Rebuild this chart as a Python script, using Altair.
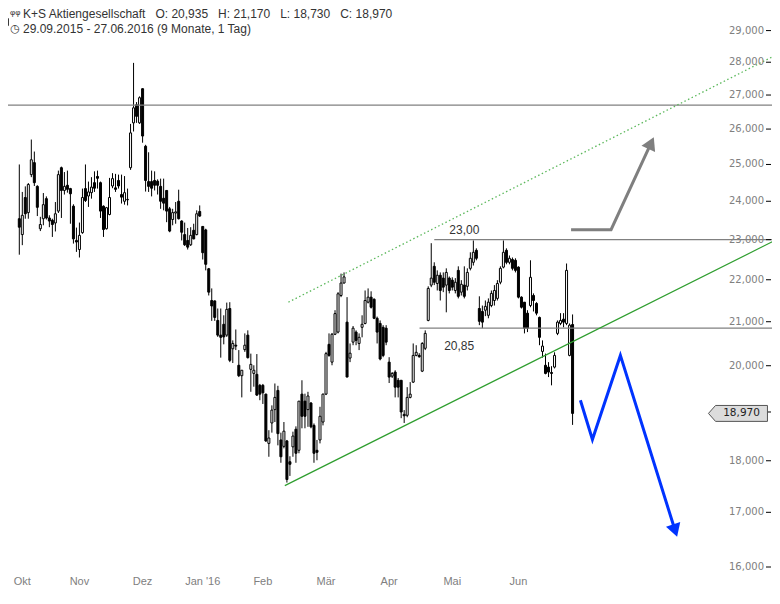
import numpy as np
import pandas as pd
import altair as alt

# ---------------- trading calendar (Xetra) ----------------
holidays = ["2015-12-24", "2015-12-25", "2015-12-31", "2016-01-01", "2016-03-25", "2016-03-28"]
cal = pd.bdate_range("2015-09-29", "2016-06-27")
cal = cal[~cal.isin(pd.to_datetime(holidays))]

# ---------------- candle data (EUR) ----------------
candle_day = [0] + list(range(4, 189))

opens = [29.16,
 23.54, 23.13, 24.10, 23.70, 24.72, 25.05, 24.40, 23.28, 23.54, 24.07, 23.56, 23.50, 23.43, 23.74, 24.91, 24.29,
 24.43, 24.34, 23.87, 22.98, 22.75, 23.18, 24.34, 24.14, 24.23, 24.50, 24.67, 24.50, 23.87, 23.28, 23.65, 24.41,
 24.36, 24.56, 24.18, 24.00, 24.04, 24.91, 26.18, 26.71, 26.18, 27.19, 25.51, 24.53, 24.53, 24.56, 24.54, 24.40,
 24.08, 24.29, 23.80, 23.52, 23.69, 24.00, 23.48, 23.13, 22.98, 22.87, 23.24, 23.13, 23.73, 23.34, 23.25, 22.27,
 21.50, 21.49, 21.03, 20.69, 20.94, 20.69, 21.31, 20.38, 20.46, 20.01, 19.78, 20.36, 20.69, 19.92, 19.83, 19.81,
 19.57, 19.57, 19.38, 18.35, 18.77, 19.05, 19.46, 18.42, 18.29, 18.40, 17.98, 18.28, 18.64, 18.21, 19.38, 19.23,
 19.05, 19.19, 18.72, 18.21, 18.42, 18.79, 19.38, 20.48, 20.08, 20.71, 20.76, 21.62, 21.92, 20.99, 20.17, 20.53,
 20.76, 20.50, 20.87, 20.96, 21.46, 21.58, 21.53, 21.08, 20.96, 20.87, 20.85, 20.08, 19.77, 19.86, 19.68, 19.68,
 18.95, 18.93, 19.31, 19.64, 20.23, 20.23, 19.88, 20.39, 21.03, 21.87, 22.33, 21.91, 22.11, 22.04, 21.87, 22.04,
 21.99, 21.74, 22.23, 21.70, 21.87, 21.84, 22.28, 22.43, 22.73, 21.31, 21.24, 21.27, 21.15, 21.38, 21.50, 21.55,
 21.94, 22.31, 22.73, 22.43, 22.50, 22.48, 22.31, 21.58, 21.46, 21.20, 21.38, 21.62, 21.43, 21.10, 20.32, 20.01,
 19.97, 19.85, 19.97, 20.73, 20.96, 21.06, 20.96, 20.23, 20.935]

highs = [30.10,
 25.00, 24.25, 24.40, 24.49, 25.70, 25.36, 24.43, 23.59, 24.22, 24.13, 23.63, 23.54, 23.98, 24.83, 24.94, 24.79,
 24.83, 24.36, 23.92, 23.31, 23.44, 24.34, 25.00, 24.53, 24.65, 24.81, 24.83, 24.53, 23.89, 23.85, 24.63, 24.76,
 24.74, 24.72, 24.72, 24.68, 24.34, 26.15, 27.98, 26.79, 26.96, 27.20, 25.55, 25.34, 24.83, 24.81, 24.59, 24.61,
 24.61, 24.29, 23.85, 23.80, 23.98, 24.31, 23.50, 23.44, 23.30, 23.32, 23.41, 23.76, 23.89, 23.34, 23.28, 22.29,
 21.79, 21.50, 21.31, 21.31, 21.15, 21.45, 21.46, 20.57, 20.82, 20.35, 19.90, 20.73, 20.80, 20.27, 20.01, 20.26,
 19.60, 19.60, 19.39, 18.62, 19.14, 19.61, 19.56, 18.57, 18.79, 18.42, 18.09, 18.59, 18.70, 19.23, 19.68, 19.39,
 19.43, 19.21, 18.76, 18.42, 19.11, 19.39, 20.31, 20.73, 20.74, 21.27, 21.70, 22.15, 22.18, 21.58, 20.50, 20.90,
 20.80, 20.73, 21.15, 21.74, 21.79, 21.72, 21.55, 21.12, 21.03, 20.92, 20.92, 20.19, 19.86, 19.90, 19.73, 19.68,
 19.04, 19.53, 19.64, 20.50, 20.46, 20.28, 20.53, 20.80, 21.84, 22.91, 22.43, 22.23, 22.18, 22.18, 22.28, 22.08,
 22.06, 22.04, 22.33, 21.99, 22.33, 22.28, 22.68, 22.98, 22.78, 21.60, 21.38, 21.50, 21.55, 21.74, 21.87, 21.99,
 22.33, 22.98, 22.78, 22.60, 22.55, 22.53, 22.33, 21.60, 21.46, 21.27, 22.48, 21.67, 21.46, 21.12, 20.57, 20.27,
 20.08, 19.99, 20.30, 21.03, 21.20, 21.20, 22.40, 20.96, 21.17]

lows = [29.06,
 22.62, 22.86, 23.54, 23.54, 24.65, 24.41, 23.61, 23.22, 23.37, 23.52, 23.32, 23.07, 23.21, 23.69, 23.56, 24.18,
 24.23, 23.41, 22.90, 22.69, 22.55, 23.15, 23.98, 23.85, 24.07, 24.25, 24.34, 23.56, 23.07, 23.26, 23.63, 24.35,
 24.25, 24.34, 23.94, 23.91, 23.89, 24.85, 25.93, 26.18, 26.15, 25.61, 24.26, 24.25, 24.13, 24.29, 24.18, 23.80,
 23.76, 23.45, 23.19, 23.37, 23.41, 23.52, 22.98, 22.84, 22.75, 22.84, 23.01, 23.11, 23.59, 22.50, 22.23, 21.62,
 21.02, 21.02, 20.65, 20.18, 20.48, 20.65, 20.08, 20.06, 20.35, 19.75, 19.31, 20.31, 20.16, 19.43, 19.54, 19.34,
 19.25, 19.17, 18.38, 18.08, 18.57, 18.79, 18.31, 17.96, 18.25, 17.57, 17.70, 18.08, 17.96, 18.15, 18.66, 18.66,
 18.69, 18.66, 17.96, 18.01, 18.35, 18.72, 19.36, 20.20, 20.01, 20.69, 20.73, 21.58, 21.91, 19.75, 20.08, 20.46,
 20.46, 20.35, 20.64, 20.94, 21.43, 21.31, 21.06, 20.50, 20.12, 20.19, 20.46, 19.62, 19.73, 19.31, 19.31, 18.87,
 18.77, 18.89, 19.29, 19.62, 20.21, 20.18, 19.86, 20.35, 21.01, 21.82, 21.87, 21.74, 21.50, 21.70, 21.22, 21.67,
 21.74, 21.67, 21.55, 21.62, 21.55, 21.74, 22.23, 22.35, 22.48, 20.92, 20.85, 21.13, 21.08, 21.34, 21.38, 21.50,
 21.89, 22.28, 22.38, 22.38, 22.23, 22.18, 21.55, 21.31, 20.73, 20.76, 21.34, 21.24, 21.15, 20.46, 20.18, 19.81,
 19.75, 19.57, 19.94, 20.69, 20.92, 20.87, 20.92, 20.21, 18.73]

closes = [29.39,
 23.32, 23.63, 23.67, 24.45, 25.13, 24.50, 23.84, 23.39, 23.91, 23.56, 23.48, 23.39, 23.67, 24.72, 24.29, 24.40,
 24.32, 24.20, 23.02, 22.94, 23.11, 24.10, 24.02, 24.25, 24.38, 24.35, 24.62, 23.74, 23.26, 23.83, 24.10, 24.61,
 24.32, 24.41, 24.11, 24.23, 24.05, 25.89, 26.62, 26.37, 26.92, 25.80, 24.56, 24.40, 24.35, 24.43, 24.43, 24.00,
 23.95, 23.74, 23.22, 23.70, 23.72, 23.54, 23.19, 22.87, 22.81, 23.11, 23.02, 23.67, 23.61, 22.67, 22.38, 21.70,
 21.37, 21.10, 20.69, 20.64, 20.65, 21.29, 20.12, 20.50, 20.44, 19.78, 19.90, 20.46, 20.18, 20.03, 19.90, 19.36,
 19.38, 19.41, 18.40, 18.46, 19.04, 19.31, 18.55, 18.08, 18.60, 17.63, 17.93, 18.50, 18.15, 19.23, 18.91, 18.91,
 19.34, 18.69, 18.15, 18.17, 18.91, 19.38, 20.27, 20.23, 20.71, 21.19, 21.66, 21.92, 22.07, 19.75, 20.28, 20.85,
 20.57, 20.64, 20.94, 21.50, 21.58, 21.34, 21.08, 20.76, 20.15, 20.23, 20.53, 19.75, 19.83, 19.53, 19.53, 19.00,
 18.92, 19.31, 19.38, 20.23, 20.30, 20.20, 20.50, 20.73, 21.79, 22.04, 21.94, 22.11, 21.74, 21.82, 22.18, 21.74,
 21.82, 21.94, 21.60, 21.89, 21.60, 22.18, 22.53, 22.68, 22.53, 21.01, 20.99, 21.36, 21.46, 21.67, 21.74, 21.91,
 22.28, 22.68, 22.43, 22.53, 22.28, 22.23, 21.58, 21.34, 20.85, 20.85, 22.06, 21.50, 21.20, 20.64, 20.44, 19.83,
 19.86, 19.83, 20.23, 20.99, 21.03, 20.99, 22.23, 20.92, 18.97]

candles = pd.DataFrame({
    "day": candle_day,
    "date": cal[candle_day].strftime("%d.%m.%Y"),
    "open": opens, "high": highs, "low": lows, "close": closes,
})

# ---------------- axis ticks ----------------
month_keys = [(2015, 10), (2015, 11), (2015, 12), (2016, 1), (2016, 2),
              (2016, 3), (2016, 4), (2016, 5), (2016, 6)]
month_labels = ["Okt", "Nov", "Dez", "Jan '16", "Feb", "Mär", "Apr", "Mai", "Jun"]
month_ticks = [int(np.flatnonzero((cal.year == y) & (cal.month == m))[0]) for y, m in month_keys]
price_ticks = list(range(16, 30))                       # 30,000 sits on the top edge
price_labels = ["%d,000" % p for p in price_ticks]
label_ticks = [p for p in price_ticks if p != 19]       # 19,000 is hidden under the price tag
label_texts = ["%d,000" % p for p in label_ticks]

# ---------------- annotations (day index, price) ----------------
trend_days, trend_prices = [92.3, 255.32], [17.51, 22.98]
channel_days, channel_prices = [93.5, 255.32], [21.46, 28.21]
level_start = [-0.755, 142.0, 137.1]
level_end = [255.32, 255.32, 255.32]
level_prices = [26.70, 23.00, 20.85]
gray_days, gray_prices = [187.5, 200.8, 214.1], [23.255, 23.255, 25.60]
blue_days, blue_prices = [190.6, 194.6, 203.9, 222.1], [19.25, 18.43, 20.23, 16.66]
last_close = 18.97

header1 = ("K+S Aktiengesellschaft\u00a0\u00a0 O: 20,935\u00a0\u00a0 H: 21,170"
           "\u00a0\u00a0 L: 18,730\u00a0\u00a0 C: 18,970")
header2 = "29.09.2015 - 27.06.2016 (9 Monate, 1 Tag)"

# ---------------- scales ----------------
xs = alt.Scale(domain=[-0.755, 255.32], nice=False, zero=False)
ys = alt.Scale(type="log", domain=[15.357, 30.0], nice=False)


def X(field):
    return alt.X(field, scale=xs, axis=None)


def Y(field):
    return alt.Y(field, scale=ys, axis=None)


# ---------------- candles ----------------
wicks = alt.Chart(candles).mark_rule(color="black", strokeWidth=1).encode(
    x=X("day:Q"), y=Y("low:Q"), y2="high:Q")
bodies = alt.Chart(candles).mark_bar(size=2, stroke="black", strokeWidth=1).encode(
    x=X("day:Q"), y=Y("open:Q"), y2="close:Q",
    fill=alt.condition("datum.close < datum.open", alt.value("black"), alt.value("white")))

# ---------------- price axis (right side, inside the plot) ----------------
ytick_df = pd.DataFrame({"price": price_ticks, "label": price_labels})
ylabel_df = pd.DataFrame({"price": label_ticks, "label": label_texts})
ytick_marks = alt.Chart(ytick_df).mark_rule(color="black", strokeWidth=1).encode(
    y=Y("price:Q"), x=alt.value(766), x2=alt.value(771))
ytick_text = alt.Chart(ylabel_df).mark_text(
    align="right", baseline="middle", font="DejaVu Sans", fontSize=10, color="#808080").encode(
    y=Y("price:Q"), x=alt.value(764), text="label:N")

# ---------------- time axis ----------------
xtick_df = pd.DataFrame({"day": month_ticks, "label": month_labels})
xtick_first = alt.Chart(xtick_df.head(1)).mark_text(
    align="left", baseline="middle", dx=0.5, font="Liberation Sans", fontSize=11, color="#808080").encode(
    x=X("day:Q"), y=alt.value(582), text="label:N")
xtick_text = alt.Chart(xtick_df.iloc[1:]).mark_text(
    align="center", baseline="middle", font="Liberation Sans", fontSize=11, color="#808080").encode(
    x=X("day:Q"), y=alt.value(582), text="label:N")

# ---------------- annotations ----------------
levels_df = pd.DataFrame({"start": level_start, "end": level_end, "price": level_prices})
levels = alt.Chart(levels_df).mark_rule(color="#808080", strokeWidth=1.2).encode(
    x=X("start:Q"), x2="end:Q", y=Y("price:Q"))

trend = alt.Chart(pd.DataFrame({"day": trend_days, "price": trend_prices})).mark_line(
    color="#2f9e2f", strokeWidth=1.2).encode(x=X("day:Q"), y=Y("price:Q"))
channel = alt.Chart(pd.DataFrame({"day": channel_days, "price": channel_prices})).mark_line(
    color="#5cb85c", strokeWidth=1.3, strokeDash=[1.5, 2.5]).encode(x=X("day:Q"), y=Y("price:Q"))

lbl23 = alt.Chart(pd.DataFrame({"day": [147.0], "price": [23.0], "t": ["23,00"]})).mark_text(
    align="left", baseline="middle", dy=-10, font="Liberation Sans", fontSize=12, color="#333333").encode(
    x=X("day:Q"), y=Y("price:Q"), text="t:N")
lbl2085 = alt.Chart(pd.DataFrame({"day": [145.3], "price": [20.85], "t": ["20,85"]})).mark_text(
    align="left", baseline="middle", dy=18, font="Liberation Sans", fontSize=12, color="#333333").encode(
    x=X("day:Q"), y=Y("price:Q"), text="t:N")

gray_df = pd.DataFrame({"o": list(range(len(gray_days))), "day": gray_days, "price": gray_prices})
gray_line = alt.Chart(gray_df).mark_line(color="#7f7f7f", strokeWidth=3, strokeJoin="miter").encode(
    x=X("day:Q"), y=Y("price:Q"), order="o:Q")
gray_head = alt.Chart(gray_df.tail(1)).mark_point(
    shape="triangle-up", filled=True, size=225, angle=25, color="#7f7f7f", opacity=1).encode(
    x=X("day:Q"), y=Y("price:Q"))

blue_df = pd.DataFrame({"o": list(range(len(blue_days))), "day": blue_days, "price": blue_prices})
blue_line = alt.Chart(blue_df).mark_line(color="#0033ff", strokeWidth=3, strokeJoin="miter").encode(
    x=X("day:Q"), y=Y("price:Q"), order="o:Q")
blue_head = alt.Chart(blue_df.tail(1)).mark_point(
    shape="triangle-down", filled=True, size=225, angle=342, color="#0033ff", opacity=1).encode(
    x=X("day:Q"), y=Y("price:Q"))

tag_shape = "M -1 0 L -0.76 -0.27 L 1 -0.27 L 1 0.27 L -0.76 0.27 Z"
tag = alt.Chart(pd.DataFrame({"day": [243.0], "price": [last_close]})).mark_point(
    shape=tag_shape, filled=True, size=3481, fill="#dcdcdc", stroke="#555555",
    strokeWidth=1, opacity=1).encode(x=X("day:Q"), y=Y("price:Q"))
tag_text = alt.Chart(pd.DataFrame({"day": [244.2], "price": [last_close], "t": ["18,970"]})).mark_text(
    align="center", baseline="middle", font="DejaVu Sans", fontSize=10.5, color="#222222").encode(
    x=X("day:Q"), y=Y("price:Q"), text="t:N")

# ---------------- header ----------------
head1 = alt.Chart(pd.DataFrame({"t": [header1]})).mark_text(
    align="left", baseline="middle", font="Liberation Sans", fontSize=12, color="#333333").encode(
    x=alt.value(23), y=alt.value(13.5), text="t:N")
head2 = alt.Chart(pd.DataFrame({"t": [header2]})).mark_text(
    align="left", baseline="middle", font="Liberation Sans", fontSize=12, color="#333333").encode(
    x=alt.value(23), y=alt.value(28.7), text="t:N")
icon1 = alt.Chart(pd.DataFrame({"t": ["\u03c6\u03c6"]})).mark_text(
    align="left", baseline="middle", font="Liberation Sans", fontSize=8, color="#333333").encode(
    x=alt.value(10), y=alt.value(13), text="t:N")
icon2 = alt.Chart(pd.DataFrame({"t": ["\u25f7"]})).mark_text(
    align="center", baseline="middle", font="DejaVu Sans", fontSize=11, color="#333333").encode(
    x=alt.value(15), y=alt.value(28.7), text="t:N")

chart = alt.layer(
    wicks, bodies, levels, trend, channel, lbl23, lbl2085,
    gray_line, gray_head, blue_line, blue_head,
    ytick_marks, ytick_text, xtick_first, xtick_text,
    tag, tag_text, head1, head2, icon1, icon2,
).properties(
    width=780, height=604,
    padding={"left": -8, "top": -8, "right": -8, "bottom": -16},
    autosize=alt.AutoSizeParams(type="none"),
    background="white",
).configure_view(stroke=None)

chart.save("out.html", embed_options={"renderer": "svg", "actions": False})
